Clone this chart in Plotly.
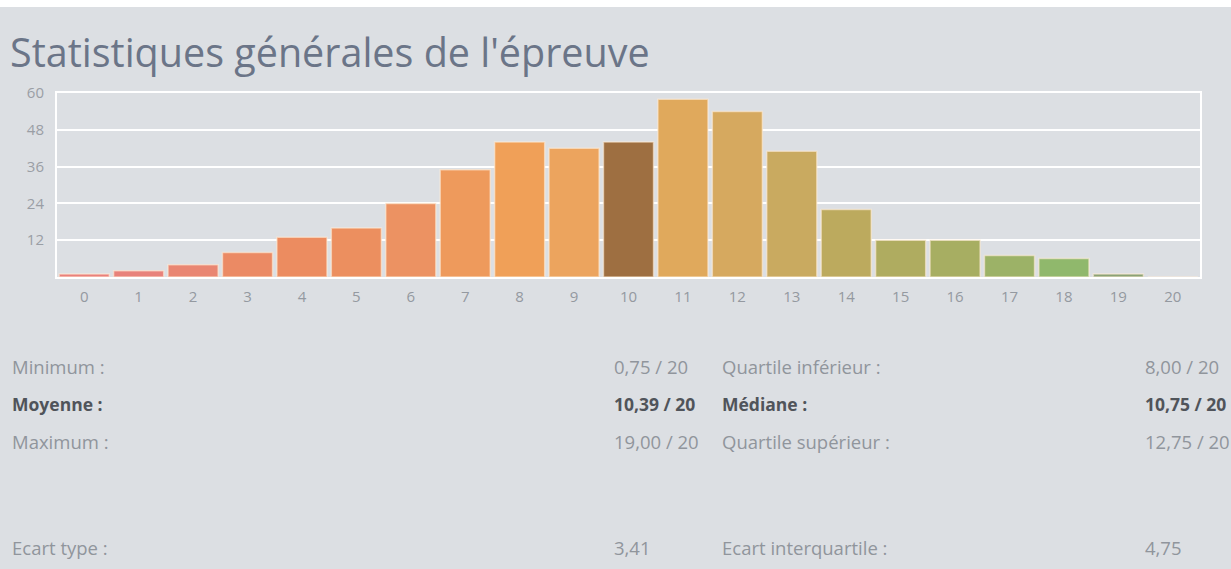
import plotly.graph_objects as go

# ---- data ----
notes = list(range(21))
effectifs = [1, 2, 4, 8, 13, 16, 24, 35, 44, 42, 44, 58, 54, 41, 22, 12, 12, 7, 6, 1, 0]
y_ticks = [12, 24, 36, 48, 60]

stats_left_labels = ["Minimum :", "Moyenne :", "Maximum :", "Ecart type :"]
stats_left_values = ["0,75 / 20", "10,39 / 20", "19,00 / 20", "3,41"]
stats_right_labels = ["Quartile inférieur :", "Médiane :", "Quartile supérieur :", "Ecart interquartile :"]
stats_right_values = ["8,00 / 20", "10,75 / 20", "12,75 / 20", "4,75"]
bold_rows = [False, True, False, False]

title_text = "Statistiques générales de l'épreuve"

# ---- style ----
bar_colors = ["#e9807c", "#e8827a", "#e98672", "#eb8a64", "#ec8c60", "#ec8f5f", "#ec9262",
              "#ee9a5c", "#f0a058", "#eca45e", "#9e6f41", "#e0a95c", "#d6a95f", "#c9aa60",
              "#bcaa5e", "#afac60", "#a7ae62", "#9cb267", "#90b86c", "#8aa276", "#90b070"]
BG = "#dcdfe3"
W, H = 1231, 569
L, R, T, B = 57, 1200, 93, 277  # plot area pixel bounds


def px_x(px):
    return (px - L) / (R - L)


def px_y(py):
    return (B - py) / (B - T)


fig = go.Figure()
fig.add_trace(go.Bar(
    x=notes, y=effectifs,
    marker=dict(color=bar_colors, line=dict(color="rgba(255,236,215,0.6)", width=1.5)),
    hoverinfo="x+y",
))

annotations = [dict(
    text=title_text, xref="paper", yref="paper", x=px_x(8), y=px_y(52),
    xanchor="left", yanchor="middle", showarrow=False,
    font=dict(family="Open Sans", size=39.5, color="#6b7588"),
)]

row_y = [366, 404, 441, 547]
for i in range(4):
    bold = bold_rows[i]
    col = "#50545a" if bold else "#90959c"
    for text, xpos in [(stats_left_labels[i], 10), (stats_left_values[i], 612),
                       (stats_right_labels[i], 720), (stats_right_values[i], 1143)]:
        annotations.append(dict(
            text=f"<b>{text}</b>" if bold else text,
            xref="paper", yref="paper", x=px_x(xpos), y=px_y(row_y[i]),
            xanchor="left", yanchor="middle", showarrow=False,
            font=dict(family="Open Sans", size=18.5 if not bold else 17.5, color=col),
        ))

fig.update_layout(
    width=W, height=H,
    margin=dict(l=L, r=W - R, t=T, b=H - B, pad=0),
    paper_bgcolor=BG, plot_bgcolor=BG,
    bargap=0.08,
    showlegend=False,
    annotations=annotations,
    shapes=[dict(type="rect", xref="paper", yref="paper",
                 x0=px_x(0), x1=px_x(W), y0=px_y(7), y1=px_y(0),
                 fillcolor="white", line=dict(width=0), layer="below")],
    xaxis=dict(
        range=[-0.5, 20.5], tickmode="array", tickvals=notes,
        ticktext=[str(n) for n in notes],
        showgrid=False, zeroline=False,
        showline=True, linecolor="white", linewidth=2, mirror=True,
        ticks="", ticklabelstandoff=5,
        tickfont=dict(family="Open Sans", size=15, color="#9499a0"),
        fixedrange=True,
    ),
    yaxis=dict(
        range=[0, 60], tickmode="array", tickvals=y_ticks,
        showgrid=True, gridcolor="white", gridwidth=1.5, zeroline=False,
        showline=True, linecolor="white", linewidth=2, mirror=True,
        ticks="", ticklabelstandoff=8,
        tickfont=dict(family="Open Sans", size=15, color="#9a9ea5"),
        fixedrange=True,
    ),
)

fig.write_html("out.html", config={"displayModeBar": False},
               post_script="document.body.style.margin='0';")
